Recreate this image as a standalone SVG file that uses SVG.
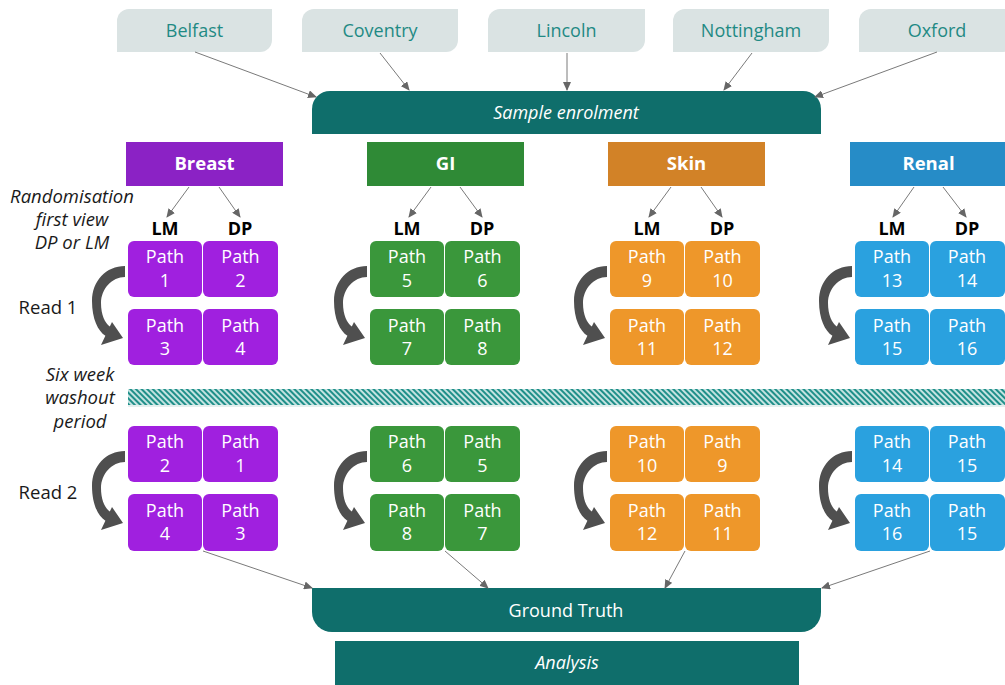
<svg xmlns="http://www.w3.org/2000/svg" xmlns:xlink="http://www.w3.org/1999/xlink" width="1005" height="685" viewBox="0 0 1005 685">
<style>
.city{fill:#dae3e3}
.ctext{font-family:"Open Sans","Noto Sans",sans-serif;font-size:18px;fill:#1f8a84;text-anchor:middle}
.teal{fill:#0f6e6b}
.wtext{font-family:"Open Sans","Noto Sans",sans-serif;font-size:18px;fill:#ffffff;text-anchor:middle}
.it{font-style:italic}
.hdr{font-family:"Open Sans","Noto Sans",sans-serif;font-size:18.5px;font-weight:bold;fill:#ffffff;text-anchor:middle}
.lab{font-family:"Open Sans","Noto Sans",sans-serif;font-size:18px;font-weight:bold;fill:#000000;text-anchor:middle}
.side{font-family:"Open Sans","Noto Sans",sans-serif;font-size:18.5px;fill:#1a1a1a;text-anchor:middle}
.ptext{font-family:"Open Sans","Noto Sans",sans-serif;font-size:18px;fill:#ffffff;text-anchor:middle}
.conn{stroke:#7a7a7a;stroke-width:1;fill:none;marker-end:url(#ah)}
.pb{fill:#a020df}
.gb{fill:#3a973b}
.sb{fill:#ee972a}
.rb{fill:#2aa1df}
.curl{fill:#4f4f4f}
</style>
<defs>
<marker id="ah" markerWidth="9" markerHeight="8" refX="8" refY="4" orient="auto" markerUnits="userSpaceOnUse">
<path d="M0,0 L9,4 L0,8 Z" fill="#666666"/>
</marker>
<pattern id="hatch" width="4" height="4" patternUnits="userSpaceOnUse" patternTransform="rotate(-45)">
<rect width="4" height="4" fill="#c4e3e1"/>
<rect width="2" height="4" fill="#1f8f89"/>
</pattern>
<path id="curl" d="M -3,25 C -22,25 -36,40 -36,60 C -36,78 -30,90 -22.6,94.8 L -27,104 L -5,97 L -16,81 L -18.2,85.6 C -23,82 -27,74 -27,62 C -27,48 -16,36 -3,36 Z"/>
</defs>

<!-- cities -->
<g id="belfast"><path class="city" d="M129,9 H272 V40 A12,12 0 0 1 260,52 H117 V21 A12,12 0 0 1 129,9 Z"/><text class="ctext" x="194.5" y="37">Belfast</text></g>
<g id="coventry"><path class="city" d="M314,9 H458 V40 A12,12 0 0 1 446,52 H302 V21 A12,12 0 0 1 314,9 Z"/><text class="ctext" x="380" y="37">Coventry</text></g>
<g id="lincoln"><path class="city" d="M500,9 H645 V40 A12,12 0 0 1 633,52 H488 V21 A12,12 0 0 1 500,9 Z"/><text class="ctext" x="566.5" y="37">Lincoln</text></g>
<g id="nottingham"><path class="city" d="M685,9 H829 V40 A12,12 0 0 1 817,52 H673 V21 A12,12 0 0 1 685,9 Z"/><text class="ctext" x="751" y="37">Nottingham</text></g>
<g id="oxford"><path class="city" d="M871,9 H1015 V40 A12,12 0 0 1 1003,52 H859 V21 A12,12 0 0 1 871,9 Z"/><text class="ctext" x="937" y="37">Oxford</text></g>

<!-- sample enrolment -->
<g id="enrolment"><path class="teal" d="M330,91 H803 A18,18 0 0 1 821,109 V134 H312 V109 A18,18 0 0 1 330,91 Z"/><text class="wtext it" x="566" y="119">Sample enrolment</text></g>

<!-- headers -->
<g id="breast"><rect x="126" y="142" width="157" height="44" fill="#8b22c5"/><text class="hdr" x="204.5" y="170">Breast</text></g>
<g id="gi"><rect x="367" y="142" width="157" height="44" fill="#2f8a36"/><text class="hdr" x="445.5" y="170">GI</text></g>
<g id="skin"><rect x="608" y="142" width="157" height="44" fill="#d28227"/><text class="hdr" x="686.5" y="170">Skin</text></g>
<g id="renal"><rect x="850" y="142" width="157" height="44" fill="#268cc7"/><text class="hdr" x="928.5" y="170">Renal</text></g>

<!-- LM / DP labels -->
<g id="lmdp">
<text class="lab" x="165" y="235">LM</text><text class="lab" x="240" y="235">DP</text>
<text class="lab" x="407" y="235">LM</text><text class="lab" x="482" y="235">DP</text>
<text class="lab" x="647" y="235">LM</text><text class="lab" x="722" y="235">DP</text>
<text class="lab" x="892" y="235">LM</text><text class="lab" x="967" y="235">DP</text>
</g>

<!-- side labels -->
<g id="side-labels">
<text class="side it" x="72" y="203">Randomisation</text>
<text class="side it" x="72" y="226">first view</text>
<text class="side it" x="72" y="249">DP or LM</text>
<text class="side" x="48" y="314">Read 1</text>
<text class="side it" x="80" y="381">Six week</text>
<text class="side it" x="80" y="404">washout</text>
<text class="side it" x="80" y="428">period</text>
<text class="side" x="48" y="499">Read 2</text>
</g>

<!-- washout band -->
<g id="washout"><rect x="128" y="391" width="877" height="16" fill="#e4efee"/><rect x="128" y="389" width="877" height="16" fill="url(#hatch)"/></g>

<!-- Breast boxes -->
<g id="breast-paths">
<rect class="pb" x="128" y="241" width="74" height="56" rx="6"/><text class="ptext" x="165" y="263">Path</text><text class="ptext" x="165" y="287">1</text>
<rect class="pb" x="203" y="241" width="75" height="56" rx="6"/><text class="ptext" x="240.5" y="263">Path</text><text class="ptext" x="240.5" y="287">2</text>
<rect class="pb" x="128" y="309" width="74" height="56" rx="6"/><text class="ptext" x="165" y="332">Path</text><text class="ptext" x="165" y="355">3</text>
<rect class="pb" x="203" y="309" width="75" height="56" rx="6"/><text class="ptext" x="240.5" y="332">Path</text><text class="ptext" x="240.5" y="355">4</text>
<rect class="pb" x="128" y="426" width="74" height="56" rx="6"/><text class="ptext" x="165" y="448">Path</text><text class="ptext" x="165" y="472">2</text>
<rect class="pb" x="203" y="426" width="75" height="56" rx="6"/><text class="ptext" x="240.5" y="448">Path</text><text class="ptext" x="240.5" y="472">1</text>
<rect class="pb" x="128" y="494" width="74" height="57" rx="6"/><text class="ptext" x="165" y="517">Path</text><text class="ptext" x="165" y="540">4</text>
<rect class="pb" x="203" y="494" width="75" height="57" rx="6"/><text class="ptext" x="240.5" y="517">Path</text><text class="ptext" x="240.5" y="540">3</text>
</g>
<!-- GI boxes -->
<g id="gi-paths">
<rect class="gb" x="370" y="241" width="74" height="56" rx="6"/><text class="ptext" x="407" y="263">Path</text><text class="ptext" x="407" y="287">5</text>
<rect class="gb" x="445" y="241" width="75" height="56" rx="6"/><text class="ptext" x="482.5" y="263">Path</text><text class="ptext" x="482.5" y="287">6</text>
<rect class="gb" x="370" y="309" width="74" height="56" rx="6"/><text class="ptext" x="407" y="332">Path</text><text class="ptext" x="407" y="355">7</text>
<rect class="gb" x="445" y="309" width="75" height="56" rx="6"/><text class="ptext" x="482.5" y="332">Path</text><text class="ptext" x="482.5" y="355">8</text>
<rect class="gb" x="370" y="426" width="74" height="56" rx="6"/><text class="ptext" x="407" y="448">Path</text><text class="ptext" x="407" y="472">6</text>
<rect class="gb" x="445" y="426" width="75" height="56" rx="6"/><text class="ptext" x="482.5" y="448">Path</text><text class="ptext" x="482.5" y="472">5</text>
<rect class="gb" x="370" y="494" width="74" height="57" rx="6"/><text class="ptext" x="407" y="517">Path</text><text class="ptext" x="407" y="540">8</text>
<rect class="gb" x="445" y="494" width="75" height="57" rx="6"/><text class="ptext" x="482.5" y="517">Path</text><text class="ptext" x="482.5" y="540">7</text>
</g>
<!-- Skin boxes -->
<g id="skin-paths">
<rect class="sb" x="610" y="241" width="74" height="56" rx="6"/><text class="ptext" x="647" y="263">Path</text><text class="ptext" x="647" y="287">9</text>
<rect class="sb" x="685" y="241" width="75" height="56" rx="6"/><text class="ptext" x="722.5" y="263">Path</text><text class="ptext" x="722.5" y="287">10</text>
<rect class="sb" x="610" y="309" width="74" height="56" rx="6"/><text class="ptext" x="647" y="332">Path</text><text class="ptext" x="647" y="355">11</text>
<rect class="sb" x="685" y="309" width="75" height="56" rx="6"/><text class="ptext" x="722.5" y="332">Path</text><text class="ptext" x="722.5" y="355">12</text>
<rect class="sb" x="610" y="426" width="74" height="56" rx="6"/><text class="ptext" x="647" y="448">Path</text><text class="ptext" x="647" y="472">10</text>
<rect class="sb" x="685" y="426" width="75" height="56" rx="6"/><text class="ptext" x="722.5" y="448">Path</text><text class="ptext" x="722.5" y="472">9</text>
<rect class="sb" x="610" y="494" width="74" height="57" rx="6"/><text class="ptext" x="647" y="517">Path</text><text class="ptext" x="647" y="540">12</text>
<rect class="sb" x="685" y="494" width="75" height="57" rx="6"/><text class="ptext" x="722.5" y="517">Path</text><text class="ptext" x="722.5" y="540">11</text>
</g>
<!-- Renal boxes -->
<g id="renal-paths">
<rect class="rb" x="855" y="241" width="74" height="56" rx="6"/><text class="ptext" x="892" y="263">Path</text><text class="ptext" x="892" y="287">13</text>
<rect class="rb" x="930" y="241" width="75" height="56" rx="6"/><text class="ptext" x="967" y="263">Path</text><text class="ptext" x="967" y="287">14</text>
<rect class="rb" x="855" y="309" width="74" height="56" rx="6"/><text class="ptext" x="892" y="332">Path</text><text class="ptext" x="892" y="355">15</text>
<rect class="rb" x="930" y="309" width="75" height="56" rx="6"/><text class="ptext" x="967" y="332">Path</text><text class="ptext" x="967" y="355">16</text>
<rect class="rb" x="855" y="426" width="74" height="56" rx="6"/><text class="ptext" x="892" y="448">Path</text><text class="ptext" x="892" y="472">14</text>
<rect class="rb" x="930" y="426" width="75" height="56" rx="6"/><text class="ptext" x="967" y="448">Path</text><text class="ptext" x="967" y="472">15</text>
<rect class="rb" x="855" y="494" width="74" height="57" rx="6"/><text class="ptext" x="892" y="517">Path</text><text class="ptext" x="892" y="540">16</text>
<rect class="rb" x="930" y="494" width="75" height="57" rx="6"/><text class="ptext" x="967" y="517">Path</text><text class="ptext" x="967" y="540">15</text>
</g>

<!-- curved read arrows -->
<g id="read-arrows" class="curl">
<use xlink:href="#curl" href="#curl" transform="translate(128,241)"/>
<use xlink:href="#curl" href="#curl" transform="translate(128,426)"/>
<use xlink:href="#curl" href="#curl" transform="translate(370,241)"/>
<use xlink:href="#curl" href="#curl" transform="translate(370,426)"/>
<use xlink:href="#curl" href="#curl" transform="translate(610,241)"/>
<use xlink:href="#curl" href="#curl" transform="translate(610,426)"/>
<use xlink:href="#curl" href="#curl" transform="translate(855,241)"/>
<use xlink:href="#curl" href="#curl" transform="translate(855,426)"/>
</g>

<!-- ground truth & analysis -->
<g id="ground-truth"><path class="teal" d="M312,588 H821 V612 A20,20 0 0 1 801,632 H332 A20,20 0 0 1 312,612 Z"/><text class="wtext" x="566" y="617">Ground Truth</text></g>
<g id="analysis"><rect class="teal" x="335" y="641" width="464" height="44"/><text class="wtext it" x="567" y="669">Analysis</text></g>

<!-- connectors -->
<g id="connectors">
<line class="conn" x1="195" y1="52" x2="316" y2="97"/>
<line class="conn" x1="380" y1="53" x2="409" y2="90"/>
<line class="conn" x1="567" y1="53" x2="567" y2="90"/>
<line class="conn" x1="752" y1="53" x2="724" y2="90"/>
<line class="conn" x1="937" y1="52" x2="815" y2="97"/>
<line class="conn" x1="189" y1="187" x2="167" y2="217"/>
<line class="conn" x1="219" y1="187" x2="240" y2="217"/>
<line class="conn" x1="431" y1="187" x2="409" y2="217"/>
<line class="conn" x1="460" y1="187" x2="482" y2="217"/>
<line class="conn" x1="671" y1="187" x2="649" y2="217"/>
<line class="conn" x1="701" y1="187" x2="722" y2="217"/>
<line class="conn" x1="914" y1="187" x2="893" y2="217"/>
<line class="conn" x1="943" y1="187" x2="966" y2="217"/>
<line class="conn" x1="203" y1="551" x2="312" y2="588"/>
<line class="conn" x1="445" y1="551" x2="488" y2="588"/>
<line class="conn" x1="685" y1="551" x2="665" y2="588"/>
<line class="conn" x1="930" y1="551" x2="822" y2="588"/>
</g>
</svg>
